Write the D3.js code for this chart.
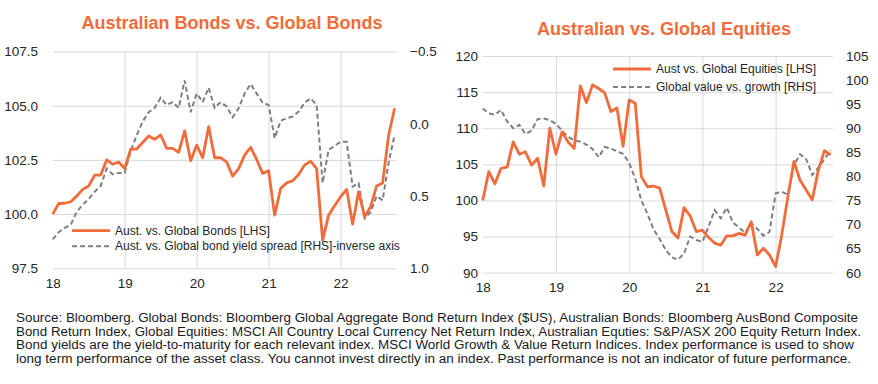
<!DOCTYPE html>
<html>
<head>
<meta charset="utf-8">
<script src="https://cdn.jsdelivr.net/npm/d3@7"></script>
<style>
  body { margin: 0; background: #fff; }
  text { font-family: "Liberation Sans", Arial, sans-serif; }
</style>
</head>
<body>
<div id="chart"></div>
<script>
// year tick labels (Jan of each year, month index 0,12,24,...)
var yearLabels = ["18", "19", "20", "21", "22"];

// monthly values Jan 2018 - Oct 2022
var bondRel = [100.0, 100.49, 100.5, 100.57, 100.83, 101.14, 101.3, 101.8, 101.8, 102.5, 102.3, 102.4,
  102.1, 103.0, 103.0, 103.3, 103.6, 103.45, 103.65, 103.03, 103.03, 102.85, 103.84, 102.46,
  103.18, 102.6, 104.03, 102.6, 102.6, 102.4, 101.75, 102.1, 102.72, 103.08, 102.52, 101.88,
  102.0, 99.95, 101.18, 101.44, 101.54, 101.83, 102.26, 102.44, 102.1, 98.8, 99.95, 100.38,
  100.8, 101.14, 99.54, 101.03, 99.88, 100.34, 101.3, 101.44, 103.64, 104.88];

var yieldSpread = [0.80, 0.75, 0.72, 0.70, 0.61, 0.56, 0.52, 0.47, 0.43, 0.31, 0.35, 0.34,
  0.34, 0.19, 0.08, -0.015, -0.08, -0.11, -0.18, -0.13, -0.15, -0.11, -0.30, -0.08,
  -0.21, -0.15, -0.25, -0.11, -0.15, -0.12, -0.045, -0.107, -0.21, -0.275, -0.21, -0.146,
  -0.13, 0.10, -0.02, -0.038, -0.05, -0.084, -0.146, -0.176, -0.13, 0.41, 0.18, 0.154,
  0.124, 0.124, 0.435, 0.41, 0.654, 0.61, 0.50, 0.53, 0.27, 0.077];

var equityRel = [100, 104, 102.3, 104.45, 104.6, 108.1, 106.4, 106.75, 104.9, 105.85, 102.0, 110.0,
  106.4, 109.5, 108.1, 107.2, 115.85, 113.55, 116.0, 115.5, 114.9, 112.3, 112.8, 107.5,
  113.9, 113.45, 103.3, 101.9, 102.0, 101.7, 98.7, 95.7, 94.8, 99.0, 97.85, 95.7,
  95.9, 94.9, 94.1, 93.8, 95.1, 95.1, 95.45, 95.2, 97.05, 92.45, 93.4, 92.45,
  90.85, 95.2, 100.5, 105.4, 102.8, 101.45, 100.1, 104.2, 106.9, 106.3];

var valueGrowth = [94.1, 93.1, 92.8, 93.8, 91.4, 90.0, 90.7, 88.8, 89.5, 91.9, 92.0, 91.7,
  90.9, 89.5, 88.2, 87.5, 87.2, 86.6, 85.7, 84.0, 86.1, 85.8, 85.2, 84.7,
  82.8, 79.5, 75.0, 72.2, 69.0, 67.0, 64.7, 63.2, 62.7, 64.0, 67.5, 66.8,
  66.4, 69.5, 73.0, 71.3, 73.5, 70.4, 69.4, 68.3, 70.2, 69.1, 67.7, 68.5,
  76.5, 76.8, 76.2, 82.3, 84.6, 83.6, 80.3, 81.8, 83.6, 85.4];

var bondTicksL = [97.5, 100.0, 102.5, 105.0, 107.5];
var bondTicksR = [-0.5, 0.0, 0.5, 1.0];
var eqTicksL = [90, 95, 100, 105, 110, 115, 120];
var eqTicksR = [60, 65, 70, 75, 80, 85, 90, 95, 100, 105];

var footLines = [
  "Source: Bloomberg. Global Bonds: Bloomberg Global Aggregate Bond Return Index ($US), Australian Bonds: Bloomberg AusBond Composite",
  "Bond Return Index,  Global Equities: MSCI All  Country Local Currency Net Return Index, Australian Equties: S&P/ASX  200 Equity Return Index.",
  "Bond yields are the yield-to-maturity for each relevant index. MSCI World Growth & Value Return Indices. Index performance is used to show",
  "long term performance of the asset class. You cannot invest directly in an index. Past performance is not an indicator of future performance."
];
var footWidths = [842, 845, 838, 835];

var orange = "#f26b3a";
var grey = "#7f7f7f";
var gridCol = "#d9d9d9";
var textCol = "#262626";

var svg = d3.select("#chart").append("svg")
  .attr("width", 878)
  .attr("height", 384);

function drawPanel(opt) {
  var g = svg.append("g");

  var x = d3.scaleLinear().domain([0, 57.4]).range([opt.left, opt.right]);
  var yL = d3.scaleLinear().domain(opt.lDomain).range([opt.bottom, opt.top]);
  var yR = d3.scaleLinear().domain(opt.rDomain).range([opt.bottom, opt.top]);

  // horizontal gridlines
  g.append("g")
    .attr("transform", "translate(" + opt.left + ",0)")
    .call(d3.axisLeft(yL).tickValues(opt.lTicks).tickSize(-(opt.right - opt.left)).tickFormat(""))
    .call(a => a.select(".domain").remove())
    .selectAll("line").attr("stroke", gridCol);

  // vertical gridlines for years 19-22
  g.append("g")
    .attr("transform", "translate(0," + opt.bottom + ")")
    .call(d3.axisBottom(x).tickValues([12, 24, 36, 48]).tickSize(-(opt.bottom - opt.top)).tickFormat(""))
    .call(a => a.select(".domain").remove())
    .selectAll("line").attr("stroke", gridCol);

  // x labels
  var xAxis = g.append("g")
    .attr("transform", "translate(0," + opt.bottom + ")")
    .call(d3.axisBottom(x).tickValues([0, 12, 24, 36, 48]).tickSize(0).tickPadding(10)
      .tickFormat((d, i) => yearLabels[i]));
  xAxis.select(".domain").remove();
  xAxis.selectAll("text").style("font-size", "13.5px").attr("fill", textCol)
    .style("font-family", "Liberation Sans, Arial, sans-serif");

  // left labels
  var lAxis = g.append("g")
    .attr("transform", "translate(" + opt.lLabelX + ",0)")
    .call(d3.axisLeft(yL).tickValues(opt.lTicks).tickSize(0).tickPadding(0).tickFormat(opt.lFormat));
  lAxis.select(".domain").remove();
  lAxis.selectAll("text").style("font-size", "13.5px").attr("fill", textCol)
    .style("font-family", "Liberation Sans, Arial, sans-serif");

  // right labels
  var rAxis = g.append("g")
    .attr("transform", "translate(" + opt.rLabelX + ",0)")
    .call(d3.axisRight(yR).tickValues(opt.rTicks).tickSize(0).tickPadding(0).tickFormat(opt.rFormat));
  rAxis.select(".domain").remove();
  rAxis.selectAll("text").style("font-size", "13.5px").attr("fill", textCol)
    .style("font-family", "Liberation Sans, Arial, sans-serif");

  // dashed series (rhs)
  g.append("path")
    .datum(opt.rData)
    .attr("fill", "none")
    .attr("stroke", grey)
    .attr("stroke-width", 2)
    .attr("stroke-dasharray", "5,3")
    .attr("d", d3.line().x((d, i) => x(i)).y(d => yR(d)));

  // solid series (lhs)
  g.append("path")
    .datum(opt.lData)
    .attr("fill", "none")
    .attr("stroke", orange)
    .attr("stroke-width", 2.8)
    .attr("stroke-linejoin", "round")
    .attr("d", d3.line().x((d, i) => x(i)).y(d => yL(d)));

  // title
  g.append("text")
    .attr("x", opt.titleX)
    .attr("y", opt.titleY)
    .attr("text-anchor", "middle")
    .attr("fill", orange)
    .style("font-size", "18px")
    .style("font-weight", "bold")
    .text(opt.title);

  // legend
  opt.legend.forEach(function(l, i) {
    var ly = opt.legendY + i * opt.legendGap;
    g.append("line")
      .attr("x1", opt.legendX).attr("x2", opt.legendX + 38)
      .attr("y1", ly).attr("y2", ly)
      .attr("stroke", i == 0 ? orange : grey)
      .attr("stroke-width", i == 0 ? 2.8 : 2)
      .attr("stroke-dasharray", i == 0 ? null : "5,3");
    g.append("text")
      .attr("x", opt.legendX + 43)
      .attr("y", ly + 4)
      .attr("fill", textCol)
      .style("font-size", "12px")
      .text(l);
  });
}

drawPanel({
  left: 52.7, right: 397, top: 51.5, bottom: 268.3,
  lDomain: [97.5, 107.5], rDomain: [1.0, -0.5],
  lTicks: bondTicksL, rTicks: bondTicksR,
  lFormat: d3.format(".1f"), rFormat: d3.format(".1f"),
  lLabelX: 38, rLabelX: 410,
  lData: bondRel, rData: yieldSpread,
  title: "Australian Bonds vs. Global Bonds", titleX: 232, titleY: 29,
  legend: ["Aust. vs. Global Bonds [LHS]", "Aust. vs. Global bond yield spread [RHS]-inverse axis"],
  legendX: 72, legendY: 230.7, legendGap: 15.5
});

drawPanel({
  left: 482.7, right: 833, top: 56, bottom: 272.7,
  lDomain: [90, 120], rDomain: [60, 105],
  lTicks: eqTicksL, rTicks: eqTicksR,
  lFormat: d3.format("d"), rFormat: d3.format("d"),
  lLabelX: 478, rLabelX: 846,
  lData: equityRel, rData: valueGrowth,
  title: "Australian vs. Global Equities", titleX: 664, titleY: 35,
  legend: ["Aust vs. Global Equities [LHS]", "Global value vs. growth [RHS]"],
  legendX: 613, legendY: 69, legendGap: 18
});

// footnote
svg.append("g").selectAll("text")
  .data(footLines)
  .enter()
  .append("text")
  .attr("x", 16)
  .attr("y", (d, i) => 322 + i * 13.5)
  .attr("textLength", (d, i) => footWidths[i])
  .attr("lengthAdjust", "spacingAndGlyphs")
  .attr("fill", "#1a1a1a")
  .style("font-size", "12.5px")
  .text(d => d);
</script>
</body>
</html>
